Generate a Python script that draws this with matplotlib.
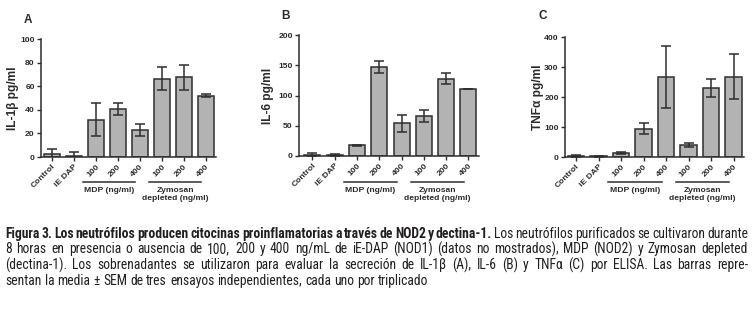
import matplotlib
matplotlib.use('Agg')
import matplotlib.pyplot as plt
from matplotlib import font_manager as fm
from matplotlib.transforms import blended_transform_factory

# ---------------- data ----------------
categories = ['Control', 'iE DAP', '100', '200', '400', '100', '200', '400']
il1b_mean = [2.5, 1, 31.5, 40.5, 23, 66.5, 67.5, 52]
il1b_sem = [4, 3, 14, 5, 5, 9.5, 10.5, 1]
il6_mean = [2, 1, 18, 147.5, 54, 66.5, 127.5, 111]
il6_sem = [3, 2.5, 1, 9.5, 14.5, 10, 9, 0.5]
tnf_mean = [3, 2, 13, 95, 267, 40, 229, 268]
tnf_sem = [3, 1, 3.5, 19, 103, 5.5, 30, 74]
ylabels = ['IL-1\u03b2 pg/ml', 'IL-6 pg/ml', 'TNF\u03b1 pg/ml']
panel_letters = ['A', 'B', 'C']
y_ticks = [[0, 20, 40, 60, 80, 100], [0, 50, 100, 150, 200], [0, 100, 200, 300, 400]]
group1_label = 'MDP (ng/ml)'
group2_label = 'Zymosan\ndepleted (ng/ml)'

caption_bold = 'Figura 3. Los neutrófilos producen citocinas proinflamatorias a través de NOD2 y dectina-1.'
caption_lines = [
    'Los neutrófilos purificados se cultivaron durante',
    '8 horas en presencia o ausencia de 100, 200 y 400 ng/mL de iE-DAP (NOD1) (datos no mostrados), MDP (NOD2) y Zymosan depleted',
    '(dectina-1). Los sobrenadantes se utilizaron para evaluar la secreción de IL-1β (A), IL-6 (B) y TNFα (C) por ELISA. Las barras repre-',
    'sentan la media ± SEM de tres ensayos independientes, cada uno por triplicado',
]

W, H = 752, 312
fig = plt.figure(figsize=(W / 100, H / 100), dpi=100)
fig.patch.set_facecolor('white')

CH = 'Liberation Sans'
TXT = '#2b2b2b'
BAR = '#b3b3b3'
EDGE = '#2e2e2e'
FS = 6.1

panels = [
    dict(mean=il1b_mean, sem=il1b_sem, ymax=100, left=41, right=215.7, y0=157, ytop=39,
         xl=-0.49, ylx=13, lx=28, ly=20),
    dict(mean=il6_mean, sem=il6_sem, ymax=200, left=299, right=478.5, y0=156, ytop=35,
         xl=-0.6, ylx=268, lx=285, ly=16),
    dict(mean=tnf_mean, sem=tnf_sem, ymax=400, left=565, right=743.7, y0=157, ytop=37,
         xl=-0.49, ylx=538, lx=543, ly=16),
]

for i, p in enumerate(panels):
    ax = fig.add_axes([p['left'] / W, 1 - p['y0'] / H, (p['right'] - p['left']) / W,
                       (p['y0'] - p['ytop']) / H])
    x = list(range(len(categories)))
    ax.bar(x, p['mean'], width=0.72, color=BAR, edgecolor=EDGE, linewidth=1.1, zorder=2)
    ax.errorbar(x, p['mean'], yerr=p['sem'], fmt='none', ecolor=EDGE, elinewidth=1.1,
                capsize=3.6, capthick=1.1, zorder=3)
    ax.set_xlim(p['xl'], 7.45)
    ax.set_ylim(0, p['ymax'])
    ax.set_yticks(y_ticks[i])
    ax.set_xticks(x)
    ax.set_xticklabels(categories, rotation=45, ha='right', va='top', rotation_mode='anchor',
                       fontsize=FS, fontweight='bold', family=CH, color=TXT)
    for lab in ax.get_yticklabels():
        lab.set_fontsize(FS)
        lab.set_fontweight('bold')
        lab.set_family(CH)
        lab.set_color(TXT)
    ax.tick_params(axis='both', direction='out', length=3, width=1, color=EDGE, pad=1.5)
    for s in ['top', 'right']:
        ax.spines[s].set_visible(False)
    for s in ['left', 'bottom']:
        ax.spines[s].set_linewidth(1.1)
        ax.spines[s].set_color(EDGE)
    ax.set_facecolor('none')

    fig.text(p['ylx'] / W, 1 - ((p['y0'] + p['ytop']) / 2) / H, ylabels[i], rotation=90,
             ha='center', va='center', fontsize=8.6, fontweight='bold', family=CH, color=TXT)
    fig.text(p['lx'] / W, 1 - p['ly'] / H, panel_letters[i], ha='center', va='center',
             fontsize=8.5, fontweight='bold', family=CH, color=TXT)

    tr = blended_transform_factory(ax.transData, fig.transFigure)
    for (a, b), lab in [((1.42, 3.8), group1_label), ((4.42, 6.8), group2_label)]:
        ax.plot([a, b], [1 - 182 / H] * 2, transform=tr, color=EDGE, lw=1.1, clip_on=False)
        ax.text((a + b) / 2, 1 - 186.5 / H, lab, transform=tr, ha='center', va='top',
                fontsize=FS, fontweight='bold', family=CH, color=TXT, linespacing=1.2)

# ---------------- caption with condensed font if available ----------------
def _wt(f):
    w = f.weight
    if isinstance(w, str):
        w = fm.weight_dict.get(w, 400)
    return w

def find_condensed(bold):
    prefs = ['liberation sans narrow', 'roboto condensed', 'open sans condensed',
             'dejavu sans condensed', 'noto sans condensed', 'dejavu sans']
    best = None
    best_rank = 99
    for f in fm.fontManager.ttflist:
        nm = f.name.lower()
        fn = f.fname.lower()
        cond = ('narrow' in nm or 'condensed' in nm or 'narrow' in fn or 'condensed' in fn
                or f.stretch in ('condensed', 'semi-condensed'))
        if not cond or f.style != 'normal':
            continue
        if 'semicondensed' in fn.replace('-', '') or 'extracondensed' in fn.replace('-', ''):
            continue
        isb = _wt(f) >= 600
        if isb != bold:
            continue
        if 'mono' in nm or ('serif' in nm and 'sans' not in nm):
            continue
        rank = 50
        for k, pr in enumerate(prefs):
            if pr in nm or pr.replace(' ', '') in fn.replace('-', '').replace('_', ''):
                rank = k
                break
        if rank < best_rank:
            best_rank = rank
            best = f.fname
    return best

fb = find_condensed(True)
fr = find_condensed(False)
if fb and fr:
    prop_b = fm.FontProperties(fname=fb)
    prop_r = fm.FontProperties(fname=fr)
else:
    prop_b = fm.FontProperties(family='Liberation Sans', weight='bold')
    prop_r = fm.FontProperties(family='Liberation Sans')

CAP = '#231f20'
x_left = 5.0
target = 743.0
base = [237.7, 253.3, 269.3, 285.0]
renderer = fig.canvas.get_renderer()

line_words = [[(w, prop_b) for w in caption_bold.split()] + [(w, prop_r) for w in caption_lines[0].split()]]
for k in range(1, 4):
    line_words.append([(w, prop_r) for w in caption_lines[k].split()])

trial = 10.0
prop_b.set_size(trial)
prop_r.set_size(trial)

def measure(words):
    ws = []
    for w, pr in words:
        t = fig.text(0, 0, w, fontproperties=pr)
        ws.append(t.get_window_extent(renderer).width)
        t.remove()
    sp = fig.text(0, 0, 'a a', fontproperties=prop_r)
    sa = fig.text(0, 0, 'aa', fontproperties=prop_r)
    space = sp.get_window_extent(renderer).width - sa.get_window_extent(renderer).width
    sp.remove(); sa.remove()
    return ws, space

natural = []
for words in line_words[:3]:
    ws, space = measure(words)
    natural.append(sum(ws) + 0.6 * space * (len(ws) - 1))
size = trial * target / max(natural)
prop_b.set_size(size)
prop_r.set_size(size)

for k, words in enumerate(line_words):
    ws, space = measure(words)
    if k < 3:
        gap = (target - sum(ws)) / (len(ws) - 1)
    else:
        gap = space
    xpos = x_left
    for (w, pr), wd in zip(words, ws):
        fig.text(xpos / W, 1 - base[k] / H, w, fontproperties=pr, color=CAP,
                 ha='left', va='baseline')
        xpos += wd + gap

fig.savefig('out.png', dpi=100, facecolor='white')
